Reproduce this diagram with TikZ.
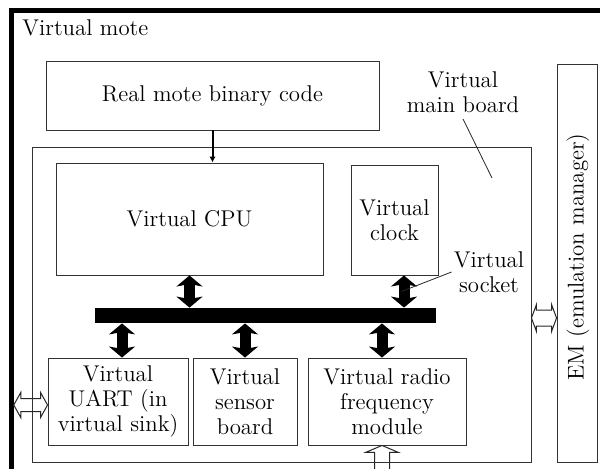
\documentclass[tikz,border=0pt]{standalone}
\usetikzlibrary{arrows.meta,calc}
% hollow double arrow from #1 to #2: head length #3, head half width #4, shaft half width #5
\newcommand\hollowarr[5]{%
  \draw[hollowst] (#1) -- ($(#1)!#3!(#2)!#4!90:(#2)$) -- ($(#1)!#3!(#2)!#5!90:(#2)$)
   -- ($(#2)!#3!(#1)!#5!-90:(#1)$) -- ($(#2)!#3!(#1)!#4!-90:(#1)$) -- (#2)
   -- ($(#2)!#3!(#1)!#4!90:(#1)$) -- ($(#2)!#3!(#1)!#5!90:(#1)$)
   -- ($(#1)!#3!(#2)!#5!-90:(#2)$) -- ($(#1)!#3!(#2)!#4!-90:(#2)$) -- cycle;}
\begin{document}
\begin{tikzpicture}[x=0.5pt,y=-0.5pt,
  every node/.style={font=\fontsize{11.4}{12.5}\selectfont},
  box/.style={draw=black!80, line width=0.45pt, inner sep=0pt, align=center},
  lbl/.style={inner sep=1pt, align=center},
  hollowst/.style={draw=black!85, line width=0.5pt, line join=miter},
  bigarrow/.style={line width=5.5pt, {Stealth[length=5.5pt,width=13pt,inset=1.2pt]}-{Stealth[length=5.5pt,width=13pt,inset=1.2pt]}},
  codearrow/.style={line width=1pt, -{Latex[length=3pt,width=3.2pt]}},
  leader/.style={line width=0.4pt, draw=black!85}]
\useasboundingbox (0,0) rectangle (600,468);
\clip (0,0) rectangle (600,468);
\fill[white] (0,0) rectangle (600,468);
% outer frame (virtual mote)
\draw[line width=2.25pt] (11.5,520) -- (11.5,10.5) -- (640,10.5);
\coordinate (frameL) at (13.75,0);
\coordinate (bottomexit) at (0,520);
\node[anchor=base west, inner sep=0pt] (motelbl) at (22,35) {Virtual mote};
% boxes
\node[box, minimum width=166.5pt, minimum height=34.5pt] (real) at (212.5,95.5) {Real mote binary code};
\node[box, minimum width=249.5pt, minimum height=157.5pt] (board) at (281.5,304.5) {};
\node[box, minimum width=133.5pt, minimum height=56pt] (cpu) at (189.5,219) {Virtual CPU};
\node[box, minimum width=43.5pt, minimum height=55pt] (clock) at (394.5,220) {Virtual\\clock};
\node[fill=black, inner sep=0pt, minimum width=170.5pt, minimum height=7.5pt] (bus) at (265.5,315.5) {};
\node[box, minimum width=70pt, minimum height=43.5pt] (uart) at (118,401.5) {Virtual\\UART (in\\virtual sink)};
\node[box, minimum width=52pt, minimum height=43.5pt] (sensor) at (245,401.5) {Virtual\\sensor\\board};
\node[box, minimum width=79pt, minimum height=43.5pt] (radio) at (387,401.5) {Virtual radio\\frequency\\module};
\node[box, minimum width=20pt, minimum height=199pt] (em) at (577,263) {};
\node[rotate=90, inner sep=0pt] (emtext) at (578,257) {EM (emulation manager)};
% labels
\node[lbl, inner sep=3pt] (boardlbl) at (463,92) {Virtual\\main board};
\node[lbl] (socketlbl) at (489,272) {Virtual\\socket};
\coordinate (mbend) at (492,178);
\draw[leader] (boardlbl.south) -- (mbend);
% connectors
\draw[codearrow] (real.south) -- (real.south |- cpu.north);
\draw[bigarrow] (cpu.south) -- (cpu.south |- bus.north);
\draw[bigarrow] ([xshift=4.75pt]clock.south) -- ([xshift=4.75pt]clock.south |- bus.north);
\draw[bigarrow] ([xshift=2pt]uart.north |- bus.south) -- ([xshift=2pt]uart.north);
\draw[bigarrow] (sensor.north |- bus.south) -- (sensor.north);
\draw[bigarrow] ([xshift=-2.5pt]radio.north |- bus.south) -- ([xshift=-2.5pt]radio.north);
\coordinate (sockpt) at ([xshift=3.5pt,yshift=-8pt]clock.south);
\draw[leader] (sockpt) -- (socketlbl.west);
% hollow arrows
\coordinate (lA) at ([yshift=-1.75pt]frameL |- uart.west);
\coordinate (lB) at ([yshift=-1.75pt]uart.west);
\hollowarr{lA}{lB}{3.5pt}{6.25pt}{3.25pt}
\coordinate (rA) at ([yshift=-6.75pt]board.east);
\coordinate (rB) at (rA -| em.west);
\hollowarr{rA}{rB}{2.5pt}{6.75pt}{4pt}
\coordinate (bA) at ([xshift=-2.5pt]radio.south);
\coordinate (bB) at (bA |- bottomexit);
\hollowarr{bA}{bB}{3.5pt}{8.25pt}{3.75pt}
\end{tikzpicture}
\end{document}
